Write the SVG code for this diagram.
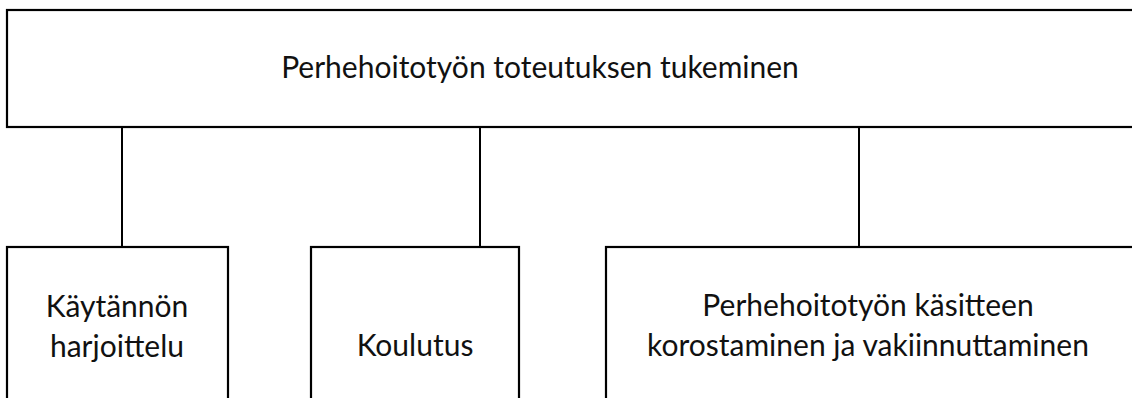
<svg xmlns="http://www.w3.org/2000/svg" width="1132" height="398" viewBox="0 0 1132 398">
<style>
.box{fill:#fff;stroke:#000;stroke-width:2.2}
.ln{stroke:#000;stroke-width:2}
.t{font-family:Lato,"Open Sans","Liberation Sans",sans-serif;font-size:30px;fill:#111;text-anchor:middle}
</style>
<rect width="1132" height="398" fill="#fff"/>
<g id="connectors">
<line class="ln" x1="122" y1="127" x2="122" y2="247"/>
<line class="ln" x1="480" y1="127" x2="480" y2="247"/>
<line class="ln" x1="859" y1="127" x2="859" y2="247"/>
</g>
<g id="root">
<rect class="box" x="7" y="10" width="1140" height="117"/>
<text class="t" x="540" y="78">Perhehoitotyön toteutuksen tukeminen</text>
</g>
<g id="n1">
<rect class="box" x="7" y="247" width="221" height="170"/>
<text class="t" x="117" y="317">Käytännön</text>
<text class="t" x="117" y="357">harjoittelu</text>
</g>
<g id="n2">
<rect class="box" x="311" y="247" width="208" height="170"/>
<text class="t" x="415" y="356">Koulutus</text>
</g>
<g id="n3">
<rect class="box" x="606" y="247" width="540" height="170"/>
<text class="t" x="868" y="316">Perhehoitotyön käsitteen</text>
<text class="t" x="868" y="356">korostaminen ja vakiinnuttaminen</text>
</g>
</svg>
